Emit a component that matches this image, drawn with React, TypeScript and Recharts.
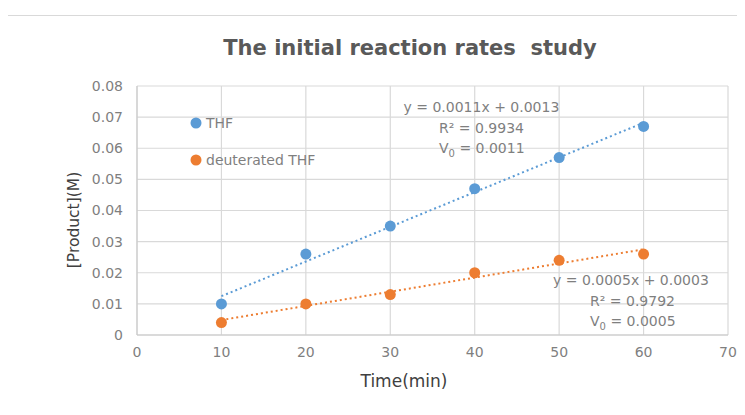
import React from 'react';
import { ComposedChart, Scatter, Line, XAxis, YAxis, CartesianGrid } from 'recharts';

const times = [10, 20, 30, 40, 50, 60];
const thfValues = [0.010, 0.026, 0.035, 0.047, 0.057, 0.067];
const deutValues = [0.004, 0.010, 0.013, 0.020, 0.024, 0.026];
const xTicks = [0, 10, 20, 30, 40, 50, 60, 70];
const yTicks = [0, 0.01, 0.02, 0.03, 0.04, 0.05, 0.06, 0.07, 0.08];
const seriesNames = ['THF', 'deuterated THF'];
const seriesColors = ['#5B9BD5', '#ED7D31'];
const thfEquation = ['y = 0.0011x + 0.0013', 'R² = 0.9934', '0.0011'];
const deutEquation = ['y = 0.0005x + 0.0003', 'R² = 0.9792', '0.0005'];
const chartTitle = 'The initial reaction rates  study';
const xTitle = 'Time(min)';
const yTitle = '[Product](M)';

const toPoints = (xs: number[], ys: number[]) => xs.map((x, i) => ({ x, y: ys[i] }));

function trend(xs: number[], ys: number[]) {
  const n = xs.length;
  const mx = xs.reduce((a, b) => a + b, 0) / n;
  const my = ys.reduce((a, b) => a + b, 0) / n;
  let sxy = 0;
  let sxx = 0;
  for (let i = 0; i < n; i++) {
    sxy += (xs[i] - mx) * (ys[i] - my);
    sxx += (xs[i] - mx) * (xs[i] - mx);
  }
  const slope = sxy / sxx;
  const icpt = my - slope * mx;
  const x0 = Math.min(...xs);
  const x1 = Math.max(...xs);
  return [
    { x: x0, y: icpt + slope * x0 },
    { x: x1, y: icpt + slope * x1 },
  ];
}

const thfPoints = toPoints(times, thfValues);
const deutPoints = toPoints(times, deutValues);
const thfTrend = trend(times, thfValues);
const deutTrend = trend(times, deutValues);

const FONT = 'DejaVu Sans';
const GRAY = '#7f7f7f';

const dot = (color: string) => (props: any) => (
  <circle cx={props.cx} cy={props.cy} r={5.5} fill={color} />
);

function Equation({ x, y, lines, xr }: { x: number; y: number; lines: string[]; xr: number }) {
  return (
    <g fontFamily={FONT} fontSize={14} fill={GRAY}>
      <text x={x} y={y}>{lines[0]}</text>
      <text x={xr} y={y + 21}>{lines[1]}</text>
      <text x={xr} y={y + 41}>
        <tspan>V</tspan>
        <tspan dy={4} fontSize={10}>0</tspan>
        <tspan dy={-4}>{' = ' + lines[2]}</tspan>
      </text>
    </g>
  );
}

export default function App() {
  return (
    <div style={{ position: 'relative', width: 729, height: 399 }}>
      <div
        style={{
          position: 'absolute',
          left: -1,
          top: 7,
          width: 738,
          height: 400,
          boxSizing: 'border-box',
          borderLeft: '1px solid #d9d9d9',
          borderTop: '1px solid #d9d9d9',
        }}
      />
      <div style={{ position: 'absolute', left: 0, top: 0 }}>
        <ComposedChart
          width={729}
          height={399}
          margin={{ top: 78, right: 9, left: 0, bottom: 0 }}
        >
          <CartesianGrid stroke="#d9d9d9" strokeWidth={1.2} />
          <XAxis
            dataKey="x"
            type="number"
            domain={[0, 70]}
            ticks={xTicks}
            height={72}
            tickLine={false}
            tickSize={0}
            tickMargin={12}
            stroke="#c8c8c8"
            tick={{ fill: GRAY, fontSize: 14, fontFamily: FONT }}
          />
          <YAxis
            dataKey="y"
            type="number"
            domain={[0, 0.08]}
            ticks={yTicks}
            width={129}
            tickLine={false}
            tickSize={0}
            tickMargin={14}
            stroke="#c8c8c8"
            tickFormatter={(v: number) => (v === 0 ? '0' : v.toFixed(2))}
            tick={{ fill: GRAY, fontSize: 14, fontFamily: FONT }}
          />
          <Scatter name={seriesNames[0]} data={thfPoints} dataKey="y" fill={seriesColors[0]} shape={dot(seriesColors[0])} isAnimationActive={false} />
          <Scatter name={seriesNames[1]} data={deutPoints} dataKey="y" fill={seriesColors[1]} shape={dot(seriesColors[1])} isAnimationActive={false} />
          <Line data={thfTrend} dataKey="y" stroke={seriesColors[0]} strokeWidth={2} strokeDasharray="2 3" dot={false} activeDot={false} legendType="none" isAnimationActive={false} />
          <Line data={deutTrend} dataKey="y" stroke={seriesColors[1]} strokeWidth={2} strokeDasharray="2 3" dot={false} activeDot={false} legendType="none" isAnimationActive={false} />
        </ComposedChart>
      </div>
      <svg
        width={729}
        height={399}
        style={{ position: 'absolute', left: 0, top: 0, pointerEvents: 'none' }}
      >
        <text
          x={402}
          y={47}
          textAnchor="middle"
          fontFamily={FONT}
          fontWeight="bold"
          fontSize={21}
          fill="#595959"
          style={{ whiteSpace: 'pre' }}
        >
          {chartTitle}
        </text>
        <text x={396} y={379} textAnchor="middle" fontFamily={FONT} fontSize={17} fill="#404040">
          {xTitle}
        </text>
        <text
          x={0}
          y={0}
          transform="translate(71 212) rotate(-90)"
          textAnchor="middle"
          fontFamily={FONT}
          fontSize={15.5}
          fill="#404040"
        >
          {yTitle}
        </text>
        <g fontFamily={FONT} fontSize={14} fill={GRAY}>
          <circle cx={188} cy={115} r={5.5} fill={seriesColors[0]} />
          <text x={198} y={120}>{seriesNames[0]}</text>
          <circle cx={188} cy={152} r={5.5} fill={seriesColors[1]} />
          <text x={198} y={157}>{seriesNames[1]}</text>
        </g>
        <Equation x={395.5} y={104} xr={431} lines={thfEquation} />
        <Equation x={545} y={277} xr={582} lines={deutEquation} />
      </svg>
    </div>
  );
}
